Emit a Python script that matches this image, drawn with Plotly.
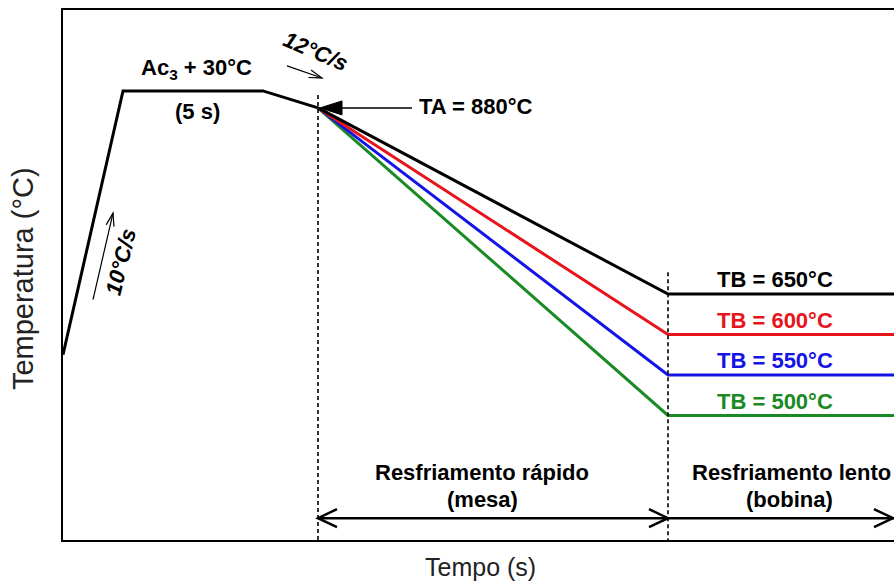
import math
import plotly.graph_objects as go

# ---- data (schematic units: time in arbitrary s, temperature in °C) ----
heat_time = [0, 6, 20, 25.5]
heat_temp = [575, 901, 901, 880]

t_start_cool = 25.5          # TA point
t_end_cool = 60.5            # end of run-out table
t_end = 83.1                 # right edge
TA = 880
TB_values = [650, 600, 550, 500]
TB_colors = ["#000000", "#e8141c", "#1414e6", "#1a8a24"]
TB_labels = ["TB = 650°C", "TB = 600°C", "TB = 550°C", "TB = 500°C"]

x_range = [0, 83.1]
y_range = [346, 1001]

FONT = "Liberation Sans, Arial, sans-serif"
PX_X = 831 / (x_range[1] - x_range[0])      # px per time unit
PX_Y = 530 / (y_range[1] - y_range[0])      # px per °C

fig = go.Figure()

# heating + hold + pre-cooling
fig.add_trace(go.Scatter(x=heat_time, y=heat_temp, mode="lines",
                         line=dict(color="black", width=3), hoverinfo="skip"))

# cooling branches (draw green first so black on top)
for tb, col in list(zip(TB_values, TB_colors))[::-1]:
    fig.add_trace(go.Scatter(x=[t_start_cool, t_end_cool, t_end], y=[TA, tb, tb],
                             mode="lines", line=dict(color=col, width=3),
                             hoverinfo="skip"))

shapes = []
# dashed vertical separators
shapes.append(dict(type="line", xref="x", yref="y", x0=t_start_cool, x1=t_start_cool,
                   y0=896, y1=y_range[0], line=dict(color="black", width=1.6, dash="4px,3px")))
shapes.append(dict(type="line", xref="x", yref="y", x0=t_end_cool, x1=t_end_cool,
                   y0=677, y1=y_range[0], line=dict(color="black", width=1.6, dash="4px,3px")))


def chevron(xt, yt, direction, lx_px, ly_px, width):
    """open arrowhead at tip (xt, yt); direction = (dx_px, dy_px) of arrow in screen px (y down)"""
    dx, dy = direction
    n = math.hypot(dx, dy)
    dx, dy = dx / n, dy / n
    px, py = -dy, dx
    pts = []
    for s in (1, -1):
        bx = -dx * lx_px + s * px * ly_px
        by = -dy * lx_px + s * py * ly_px
        pts.append((xt + bx / PX_X, yt - by / PX_Y))
    path = f"M {pts[0][0]},{pts[0][1]} L {xt},{yt} L {pts[1][0]},{pts[1][1]}"
    return dict(type="path", xref="x", yref="y", path=path,
                line=dict(color="black", width=width))


# double arrow (rapid cooling) and coil arrow
arrow_T = 373
shapes.append(dict(type="line", xref="x", yref="y", x0=t_start_cool, x1=t_end, y0=arrow_T, y1=arrow_T,
                   line=dict(color="black", width=2.5)))
shapes.append(chevron(t_start_cool, arrow_T, (-1, 0), 19, 9, 2.5))
shapes.append(chevron(t_end_cool, arrow_T, (1, 0), 19, 9, 2.5))
shapes.append(chevron(t_end - 0.1, arrow_T, (1, 0), 19, 9, 2.5))

# TA arrow (filled triangle)
ta_tail = 34.9
tip = t_start_cool + 0.2
head_len = 22 / PX_X
head_half = 7 / PX_Y
shapes.append(dict(type="line", xref="x", yref="y", x0=tip + head_len, x1=ta_tail, y0=TA, y1=TA,
                   line=dict(color="black", width=1.5)))
shapes.append(dict(type="path", xref="x", yref="y",
                   path=f"M {tip},{TA} L {tip + head_len},{TA + head_half} L {tip + head_len},{TA - head_half} Z",
                   fillcolor="black", line=dict(color="black", width=1)))

# 12°C/s small arrow
a12 = ([22.4, 25.9], [932, 917])
shapes.append(dict(type="line", xref="x", yref="y", x0=a12[0][0], x1=a12[0][1], y0=a12[1][0], y1=a12[1][1],
                   line=dict(color="black", width=1.2)))
shapes.append(chevron(a12[0][1], a12[1][1],
                      ((a12[0][1] - a12[0][0]) * PX_X, -(a12[1][1] - a12[1][0]) * PX_Y), 13, 4, 1.2))

# 10°C/s small arrow
a10 = ([3.0, 5.0], [643, 750])
shapes.append(dict(type="line", xref="x", yref="y", x0=a10[0][0], x1=a10[0][1], y0=a10[1][0], y1=a10[1][1],
                   line=dict(color="black", width=1.2)))
shapes.append(chevron(a10[0][1], a10[1][1],
                      ((a10[0][1] - a10[0][0]) * PX_X, -(a10[1][1] - a10[1][0]) * PX_Y), 13, 4, 1.2))

ann = []


def txt(x, y, text, color="black", angle=0, xanchor="center", size=22):
    ann.append(dict(x=x, y=y, xref="x", yref="y", text=text, showarrow=False,
                    font=dict(family=FONT, size=size, color=color), textangle=angle,
                    xanchor=xanchor, yanchor="middle"))


txt(13.3, 928, "<b>Ac<sub>3</sub> + 30°C</b>")
txt(13.4, 875, "<b>(5 s)</b>")
txt(25.3, 950, "<b><i>12°C/s</i></b>", angle=23)
txt(5.8, 690, "<b><i>10°C/s</i></b>", angle=-76)
txt(35.4, 882, "<b>TA = 880°C</b>", xanchor="left")
for tb, col, lab in zip(TB_values, TB_colors, TB_labels):
    txt(71.2, tb + 17.5, f"<b>{lab}</b>", color=col)
txt(41.9, 430, "<b>Resfriamento rápido</b>")
txt(41.9, 396, "<b>(mesa)</b>")
txt(72.8, 430, "<b>Resfriamento lento</b>")
txt(72.6, 396, "<b>(bobina)</b>")

# axis titles
ann.append(dict(x=0.503, y=-0.051, xref="paper", yref="paper", text="Tempo (s)", showarrow=False,
                font=dict(family=FONT, size=25, color="#222"), xanchor="center", yanchor="middle"))
ann.append(dict(x=-0.048, y=0.4925, xref="paper", yref="paper", text="Temperatura (°C)", showarrow=False,
                font=dict(family=FONT, size=29, color="#222"), textangle=-90,
                xanchor="center", yanchor="middle"))

fig.update_layout(
    width=894, height=585,
    margin=dict(l=63, r=0, t=10, b=45),
    paper_bgcolor="white", plot_bgcolor="white",
    showlegend=False,
    shapes=shapes, annotations=ann,
    xaxis=dict(range=x_range, showgrid=False, zeroline=False, showticklabels=False, ticks="",
               showline=True, linecolor="black", linewidth=2, mirror=True),
    yaxis=dict(range=y_range, showgrid=False, zeroline=False, showticklabels=False, ticks="",
               showline=True, linecolor="black", linewidth=2, mirror=False),
)

fig.write_html("out.html", config={"displayModeBar": False},
               post_script="document.body.style.margin='0';document.body.style.overflow='hidden';")
